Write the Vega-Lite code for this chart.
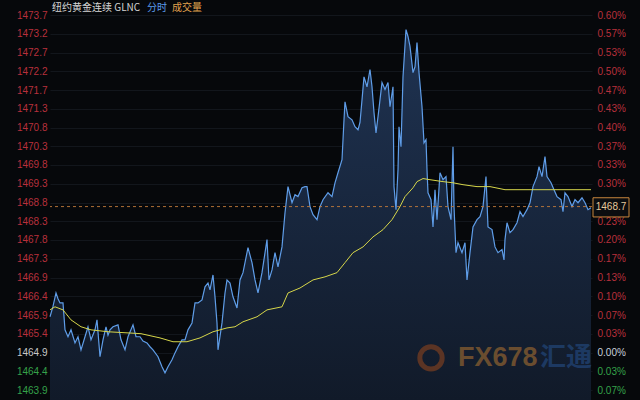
{
  "$schema": "https://vega.github.io/schema/vega-lite/v6.json",
  "width": 542,
  "height": 400,
  "autosize": "none",
  "padding": {"left": 50, "right": 48, "top": 0, "bottom": 0},
  "background": "#06080b",
  "config": {
    "view": {"stroke": null},
    "axisX": {"labels": false, "ticks": false, "domain": false, "grid": false, "title": null},
    "text": {"font": "Liberation Sans"}
  },
  "datasets": {
    "price": [
      {"t":0,"p":1465.83},{"t":3,"p":1466.1},{"t":6,"p":1466.45},{"t":8,"p":1466.3},{"t":10,"p":1466.19},{"t":13,"p":1466.19},{"t":15,"p":1465.49},{"t":18,"p":1465.31},{"t":21,"p":1465.49},{"t":25,"p":1465.15},{"t":28,"p":1465.31},{"t":31,"p":1464.97},{"t":35,"p":1465.31},{"t":38,"p":1465.57},{"t":41,"p":1465.23},{"t":45,"p":1465.49},{"t":47,"p":1465.75},{"t":50,"p":1464.79},{"t":53,"p":1465.23},{"t":56,"p":1465.57},{"t":58,"p":1465.35},{"t":60,"p":1465.49},{"t":63,"p":1465.57},{"t":68,"p":1465.62},{"t":71,"p":1465.23},{"t":75,"p":1464.97},{"t":78,"p":1465.31},{"t":83,"p":1465.62},{"t":86,"p":1465.31},{"t":90,"p":1465.31},{"t":93,"p":1465.2},{"t":97,"p":1465.15},{"t":100,"p":1465.05},{"t":103,"p":1464.97},{"t":108,"p":1464.79},{"t":112,"p":1464.53},{"t":115,"p":1464.37},{"t":118,"p":1464.53},{"t":122,"p":1464.71},{"t":125,"p":1464.89},{"t":128,"p":1465.05},{"t":132,"p":1465.23},{"t":135,"p":1465.23},{"t":138,"p":1465.49},{"t":142,"p":1465.67},{"t":145,"p":1466.19},{"t":148,"p":1466.19},{"t":152,"p":1466.27},{"t":155,"p":1466.61},{"t":158,"p":1466.71},{"t":160,"p":1466.53},{"t":163,"p":1466.92},{"t":165,"p":1466.35},{"t":167,"p":1465.67},{"t":168,"p":1464.97},{"t":172,"p":1465.67},{"t":175,"p":1466.45},{"t":177,"p":1466.79},{"t":180,"p":1466.71},{"t":183,"p":1466.35},{"t":187,"p":1466.06},{"t":190,"p":1466.79},{"t":193,"p":1466.98},{"t":198,"p":1467.63},{"t":202,"p":1467.24},{"t":205,"p":1466.79},{"t":208,"p":1466.45},{"t":212,"p":1466.98},{"t":217,"p":1467.84},{"t":219,"p":1466.79},{"t":222,"p":1467.05},{"t":225,"p":1467.5},{"t":228,"p":1467.13},{"t":232,"p":1467.65},{"t":235,"p":1468.54},{"t":238,"p":1469.22},{"t":242,"p":1468.8},{"t":245,"p":1469.01},{"t":248,"p":1468.96},{"t":252,"p":1469.19},{"t":255,"p":1469.22},{"t":257,"p":1469.22},{"t":260,"p":1468.7},{"t":263,"p":1468.49},{"t":267,"p":1468.36},{"t":270,"p":1468.7},{"t":273,"p":1468.88},{"t":278,"p":1469.06},{"t":282,"p":1468.96},{"t":285,"p":1469.32},{"t":288,"p":1469.58},{"t":292,"p":1469.92},{"t":294,"p":1470.96},{"t":295,"p":1471.43},{"t":298,"p":1471.04},{"t":302,"p":1470.96},{"t":305,"p":1470.78},{"t":308,"p":1470.7},{"t":310,"p":1470.89},{"t":312,"p":1471.48},{"t":314,"p":1472.08},{"t":317,"p":1471.82},{"t":320,"p":1472.27},{"t":322,"p":1471.82},{"t":324,"p":1471.15},{"t":326,"p":1470.62},{"t":328,"p":1471.04},{"t":332,"p":1471.93},{"t":335,"p":1471.75},{"t":338,"p":1471.93},{"t":340,"p":1471.3},{"t":343,"p":1471.82},{"t":344,"p":1469.22},{"t":346,"p":1468.62},{"t":348,"p":1469.66},{"t":349,"p":1470.78},{"t":351,"p":1470.26},{"t":353,"p":1472.08},{"t":356,"p":1473.31},{"t":358,"p":1473.13},{"t":360,"p":1472.87},{"t":363,"p":1472.19},{"t":365,"p":1472.34},{"t":367,"p":1472.97},{"t":369,"p":1472.19},{"t":372,"p":1471.3},{"t":374,"p":1470.36},{"t":376,"p":1470.44},{"t":377,"p":1469.66},{"t":378,"p":1469.06},{"t":381,"p":1468.88},{"t":383,"p":1468.17},{"t":385,"p":1469.14},{"t":387,"p":1468.36},{"t":390,"p":1469.58},{"t":393,"p":1469.4},{"t":396,"p":1469.48},{"t":398,"p":1468.7},{"t":401,"p":1468.36},{"t":403,"p":1470.26},{"t":404,"p":1468.7},{"t":406,"p":1467.5},{"t":408,"p":1467.76},{"t":412,"p":1467.5},{"t":415,"p":1467.76},{"t":417,"p":1466.79},{"t":420,"p":1467.5},{"t":423,"p":1468.17},{"t":427,"p":1468.36},{"t":430,"p":1468.44},{"t":433,"p":1468.7},{"t":436,"p":1469.48},{"t":438,"p":1468.17},{"t":442,"p":1468.1},{"t":445,"p":1467.65},{"t":448,"p":1467.5},{"t":452,"p":1467.58},{"t":454,"p":1467.31},{"t":455,"p":1467.84},{"t":457,"p":1468.28},{"t":460,"p":1468.02},{"t":463,"p":1468.1},{"t":467,"p":1468.28},{"t":470,"p":1468.57},{"t":473,"p":1468.44},{"t":477,"p":1468.62},{"t":480,"p":1468.8},{"t":483,"p":1469.22},{"t":487,"p":1469.48},{"t":489,"p":1469.74},{"t":492,"p":1469.48},{"t":495,"p":1470.0},{"t":497,"p":1469.48},{"t":501,"p":1469.32},{"t":504,"p":1469.14},{"t":507,"p":1468.96},{"t":511,"p":1468.88},{"t":513,"p":1468.57},{"t":515,"p":1469.06},{"t":518,"p":1468.96},{"t":522,"p":1468.7},{"t":525,"p":1468.88},{"t":528,"p":1468.8},{"t":532,"p":1468.93},{"t":535,"p":1468.8},{"t":538,"p":1468.62},{"t":541,"p":1468.67}
    ],
    "avg": [
      {"t":0,"p":1466.01},{"t":5,"p":1466.09},{"t":13,"p":1466.01},{"t":21,"p":1465.75},{"t":31,"p":1465.57},{"t":41,"p":1465.49},{"t":58,"p":1465.44},{"t":78,"p":1465.41},{"t":91,"p":1465.39},{"t":110,"p":1465.28},{"t":123,"p":1465.18},{"t":137,"p":1465.18},{"t":150,"p":1465.28},{"t":163,"p":1465.44},{"t":177,"p":1465.54},{"t":185,"p":1465.57},{"t":193,"p":1465.7},{"t":207,"p":1465.83},{"t":217,"p":1466.01},{"t":232,"p":1466.09},{"t":238,"p":1466.45},{"t":250,"p":1466.58},{"t":263,"p":1466.79},{"t":275,"p":1466.87},{"t":287,"p":1466.98},{"t":295,"p":1467.24},{"t":303,"p":1467.5},{"t":313,"p":1467.65},{"t":323,"p":1467.91},{"t":333,"p":1468.1},{"t":342,"p":1468.36},{"t":350,"p":1468.7},{"t":355,"p":1468.96},{"t":363,"p":1469.19},{"t":367,"p":1469.35},{"t":373,"p":1469.43},{"t":380,"p":1469.4},{"t":393,"p":1469.35},{"t":403,"p":1469.32},{"t":413,"p":1469.27},{"t":427,"p":1469.22},{"t":440,"p":1469.22},{"t":455,"p":1469.14},{"t":470,"p":1469.14},{"t":490,"p":1469.14},{"t":541,"p":1469.14}
    ],
    "one": [{}]
  },
  "layer": [
    {
      "data": {"name": "price"},
      "mark": {"type": "area", "color": {"x1": 0, "y1": 0, "x2": 0, "y2": 1, "gradient": "linear", "stops": [{"offset": 0, "color": "#1f3352"}, {"offset": 1, "color": "#111a29"}]}},
      "encoding": {
        "x": {"field": "t", "type": "quantitative", "scale": {"domain": [0, 542], "nice": false, "zero": false}, "title": null},
        "y": {"field": "p", "type": "quantitative", "scale": {"domain": [1463.663, 1474.08], "nice": false, "zero": false}, "axis": null},
        "y2": {"datum": 1463.663}
      }
    },
    {
      "data": {"name": "price"},
      "mark": {"type": "line", "color": "#5f9de8", "strokeWidth": 1.2},
      "encoding": {
        "x": {"field": "t", "type": "quantitative", "title": null},
        "y": {"field": "p", "type": "quantitative", "scale": {"domain": [1463.663, 1474.08], "nice": false, "zero": false},
          "axis": {"orient": "left", "title": null, "values": [1473.689,1473.201,1472.712,1472.224,1471.736,1471.25,1470.759,1470.271,1469.783,1469.294,1468.806,1468.318,1467.830,1467.341,1466.853,1466.365,1465.876,1465.388,1464.900,1464.412,1463.923],
            "labelExpr": "format(datum.value, '.1f')", "labelFont": "Liberation Sans", "labelFontSize": 10, "labelPadding": 3,
            "labelColor": {"expr": "datum.value > 1464.91 ? '#b8303c' : (datum.value < 1464.89 ? '#35a24a' : '#c8c8c8')"},
            "ticks": false, "domain": false, "grid": true, "gridColor": "#12161c", "gridWidth": 1, "labelBound": false, "labelOverlap": false, "labelFlush": false}}
      }
    },
    {
      "data": {"name": "avg"},
      "mark": {"type": "line", "color": "#d6d64a", "strokeWidth": 1},
      "encoding": {
        "x": {"field": "t", "type": "quantitative", "title": null},
        "y": {"field": "p", "type": "quantitative", "scale": {"domain": [1463.663, 1474.08], "nice": false, "zero": false},
          "axis": {"orient": "right", "title": null, "values": [1473.689,1473.201,1472.712,1472.224,1471.736,1471.25,1470.759,1470.271,1469.783,1469.294,1468.806,1468.318,1467.830,1467.341,1466.853,1466.365,1465.876,1465.388,1464.900,1464.412,1463.923],
            "labelExpr": "format(abs(datum.value - 1464.9) / 1464.9 * 100, '.2f') + '%'", "labelFont": "Liberation Sans", "labelFontSize": 10, "labelPadding": 5,
            "labelColor": {"expr": "datum.value > 1464.91 ? '#b8303c' : (datum.value < 1464.89 ? '#35a24a' : '#c8d0dc')"},
            "ticks": false, "domain": false, "grid": false, "labelBound": false, "labelOverlap": false, "labelFlush": false}}
      }
    },
    {
      "data": {"name": "one"},
      "mark": {"type": "rule", "color": "#c07a3c", "strokeDash": [3, 3], "strokeWidth": 1, "opacity": 0.9},
      "encoding": {
        "y": {"datum": 1468.7, "type": "quantitative", "scale": {"domain": [1463.663, 1474.08], "nice": false, "zero": false}, "axis": null}
      }
    },
    {
      "data": {"name": "one"},
      "mark": {"type": "rect", "fill": "#0b0d10", "stroke": "#c8863c", "strokeWidth": 1},
      "encoding": {
        "x": {"datum": 543, "type": "quantitative"},
        "x2": {"datum": 579},
        "y": {"datum": 1468.93, "type": "quantitative", "scale": {"domain": [1463.663, 1474.08], "nice": false, "zero": false}, "axis": null},
        "y2": {"datum": 1468.43}
      }
    },
    {
      "data": {"name": "one"},
      "mark": {"type": "text", "color": "#e6c89a", "fontSize": 10, "align": "center", "baseline": "middle", "font": "Liberation Sans"},
      "encoding": {
        "x": {"datum": 561, "type": "quantitative"},
        "y": {"datum": 1468.68, "type": "quantitative", "scale": {"domain": [1463.663, 1474.08], "nice": false, "zero": false}, "axis": null},
        "text": {"value": "1468.7"}
      }
    },
    {
      "data": {"name": "one"},
      "mark": {"type": "text", "color": "#d4d4d4", "fontSize": 10, "align": "left", "baseline": "middle", "font": "Noto Sans CJK SC"},
      "encoding": {
        "x": {"datum": 2, "type": "quantitative"},
        "y": {"datum": 1473.87, "type": "quantitative", "scale": {"domain": [1463.663, 1474.08], "nice": false, "zero": false}, "axis": null},
        "text": {"value": "纽约黄金连续 GLNC"}
      }
    },
    {
      "data": {"name": "one"},
      "mark": {"type": "text", "color": "#5b9bea", "fontSize": 10, "align": "left", "baseline": "middle", "font": "Noto Sans CJK SC"},
      "encoding": {
        "x": {"datum": 97, "type": "quantitative"},
        "y": {"datum": 1473.87, "type": "quantitative", "scale": {"domain": [1463.663, 1474.08], "nice": false, "zero": false}, "axis": null},
        "text": {"value": "分时"}
      }
    },
    {
      "data": {"name": "one"},
      "mark": {"type": "text", "color": "#e0a24e", "fontSize": 10, "align": "left", "baseline": "middle", "font": "Noto Sans CJK SC"},
      "encoding": {
        "x": {"datum": 122, "type": "quantitative"},
        "y": {"datum": 1473.87, "type": "quantitative", "scale": {"domain": [1463.663, 1474.08], "nice": false, "zero": false}, "axis": null},
        "text": {"value": "成交量"}
      }
    },
    {
      "data": {"name": "one"},
      "mark": {"type": "point", "shape": "circle", "filled": false, "stroke": "#6e3a22", "strokeWidth": 5, "size": 500, "opacity": 0.8},
      "encoding": {
        "x": {"datum": 381, "type": "quantitative"},
        "y": {"datum": 1464.76, "type": "quantitative", "scale": {"domain": [1463.663, 1474.08], "nice": false, "zero": false}, "axis": null}
      }
    },
    {
      "data": {"name": "one"},
      "mark": {"type": "text", "color": "#7a5630", "fontSize": 27, "fontWeight": "bold", "align": "left", "baseline": "middle", "font": "Liberation Sans", "opacity": 0.85},
      "encoding": {
        "x": {"datum": 408, "type": "quantitative"},
        "y": {"datum": 1464.76, "type": "quantitative", "scale": {"domain": [1463.663, 1474.08], "nice": false, "zero": false}, "axis": null},
        "text": {"value": "FX678"}
      }
    },
    {
      "data": {"name": "one"},
      "mark": {"type": "text", "color": "#1f3f6c", "fontSize": 26, "fontWeight": "bold", "align": "left", "baseline": "middle", "font": "Noto Sans CJK SC", "opacity": 0.85},
      "encoding": {
        "x": {"datum": 490, "type": "quantitative"},
        "y": {"datum": 1464.76, "type": "quantitative", "scale": {"domain": [1463.663, 1474.08], "nice": false, "zero": false}, "axis": null},
        "text": {"value": "汇通"}
      }
    }
  ],
  "resolve": {"scale": {"y": "independent"}}
}
